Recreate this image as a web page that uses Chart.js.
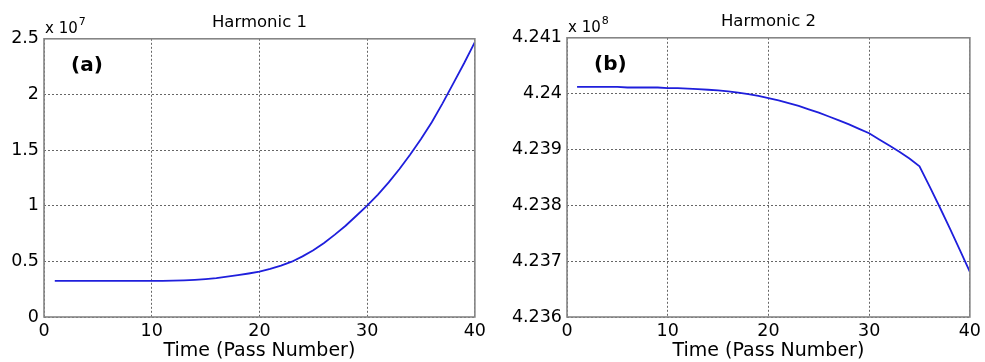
<!DOCTYPE html>
<html><head><meta charset="utf-8">
<script src="https://cdn.jsdelivr.net/npm/chart.js@4"></script>
<style>
html,body{margin:0;padding:0;background:#fff;}
#wrap{position:relative;width:985px;height:362px;overflow:hidden;background:#fff;}
.c{position:absolute;top:0;height:362px;}
</style></head><body>
<div id="wrap">
<div class="c" style="left:0;width:490px"><canvas id="c1" width="490" height="362"></canvas></div>
<div class="c" style="left:490px;width:495px"><canvas id="c2" width="495" height="362"></canvas></div>
</div>
<script>
// ---- data ----
const passNumbers = [1,2,3,4,5,6,7,8,9,10,11,12,13,14,15,16,17,18,19,20,21,22,23,24,25,26,27,28,29,30,31,32,33,34,35,36,37,38,39,40];
// Harmonic 1, in units of 10^7
const harmonic1 = [0.324,0.324,0.324,0.324,0.324,0.324,0.324,0.324,0.324,0.324,
                   0.325,0.326,0.329,0.334,0.341,0.350,0.362,0.376,0.391,0.407,
                   0.432,0.462,0.497,0.545,0.600,0.665,0.740,0.820,0.910,1.000,
                   1.100,1.210,1.330,1.460,1.600,1.750,1.920,2.100,2.280,2.470];
// Harmonic 2, in units of 10^8
const harmonic2 = [4.24012,4.24012,4.24012,4.24012,4.24012,4.24011,4.24011,4.24011,4.24011,4.24010,
                   4.24010,4.24009,4.24008,4.24007,4.24006,4.24004,4.24002,4.23999,4.23996,4.23992,
                   4.23988,4.23983,4.23978,4.23972,4.23966,4.23959,4.23952,4.23945,4.23937,4.23929,
                   4.23918,4.23907,4.23896,4.23884,4.23870,4.23834,4.23797,4.23759,4.23720,4.23681];
const xTicks = [0,10,20,30,40];
const yTicks1 = [0,0.5,1,1.5,2,2.5];
const yTicks2 = [4.236,4.237,4.238,4.239,4.240,4.241];
const titles = ['Harmonic 1','Harmonic 2'];
const panels = ['(a)','(b)'];
const exponents = ['7','8'];
const xTitle = 'Time (Pass Number)';

const FONT = '"DejaVu Sans", sans-serif';

const framePlugin = {
  id: 'frame',
  afterDraw(chart, args, opts) {
    const {ctx, chartArea: a} = chart;
    ctx.save();
    ctx.strokeStyle = '#858585';
    ctx.lineWidth = 1.6;
    ctx.strokeRect(a.left, a.top, a.right - a.left, a.bottom - a.top);
    ctx.fillStyle = '#000';
    ctx.textAlign = 'left';
    ctx.textBaseline = 'alphabetic';
    ctx.font = 'bold 20px ' + FONT;
    ctx.fillText(opts.panel, a.left + 27, a.top + 32);
    ctx.font = '15px ' + FONT;
    ctx.fillText('x 10', a.left + 1, a.top - 6);
    const w = ctx.measureText('x 10').width;
    ctx.font = '11px ' + FONT;
    ctx.fillText(opts.exp, a.left + 2 + w, a.top - 14);
    ctx.restore();
  }
};

function makeChart(id, values, yTicks, cfg) {
  return new Chart(document.getElementById(id), {
    type: 'line',
    data: {
      datasets: [{
        data: passNumbers.map((x, i) => ({x: x, y: values[i]})),
        borderColor: '#1f1fdc',
        borderWidth: 1.8,
        pointRadius: 0,
        tension: 0,
        fill: false
      }]
    },
    options: {
      responsive: false,
      animation: false,
      devicePixelRatio: 1,
      layout: {padding: {left: 0, right: cfg.padRight, top: 0, bottom: 0}},
      plugins: {
        legend: {display: false},
        tooltip: {enabled: false},
        title: {
          display: true, text: cfg.title, fullSize: false, color: '#000',
          font: {family: FONT, size: 16.5, weight: 'normal', lineHeight: 1.2},
          padding: {top: cfg.titleTop, bottom: 6}
        },
        frame: {panel: cfg.panel, exp: cfg.exp}
      },
      scales: {
        x: {
          type: 'linear', min: 0, max: 40,
          afterBuildTicks: s => { s.ticks = xTicks.map(v => ({value: v})); },
          afterFit: s => { s.height = 45; },
          grid: {color: '#666', lineWidth: 1, drawTicks: false},
          border: {display: false, dash: [2, 2]},
          ticks: {padding: 4, color: '#000', font: {family: FONT, size: 17.5}, maxRotation: 0, autoSkip: false},
          title: {display: true, text: xTitle, color: '#000', font: {family: FONT, size: 19, lineHeight: 1}, padding: {top: 0, bottom: 1}}
        },
        y: {
          type: 'linear', min: yTicks[0], max: yTicks[yTicks.length - 1],
          afterBuildTicks: s => { s.ticks = yTicks.map(v => ({value: v})); },
          afterFit: s => { s.width = cfg.yWidth; },
          grid: {color: '#666', lineWidth: 1, drawTicks: false},
          border: {display: false, dash: [2, 2]},
          ticks: {
            padding: 5, color: '#000', font: {family: FONT, size: 17.5}, autoSkip: false,
            callback: v => String(parseFloat(Number(v).toFixed(3)))
          }
        }
      }
    },
    plugins: [framePlugin]
  });
}

makeChart('c1', harmonic1, yTicks1, {title: titles[0], panel: panels[0], exp: exponents[0], padRight: 14, yWidth: 44, titleTop: 13});
makeChart('c2', harmonic2, yTicks2, {title: titles[1], panel: panels[1], exp: exponents[1], padRight: 9, yWidth: 77, titleTop: 12});
</script>
</body></html>
